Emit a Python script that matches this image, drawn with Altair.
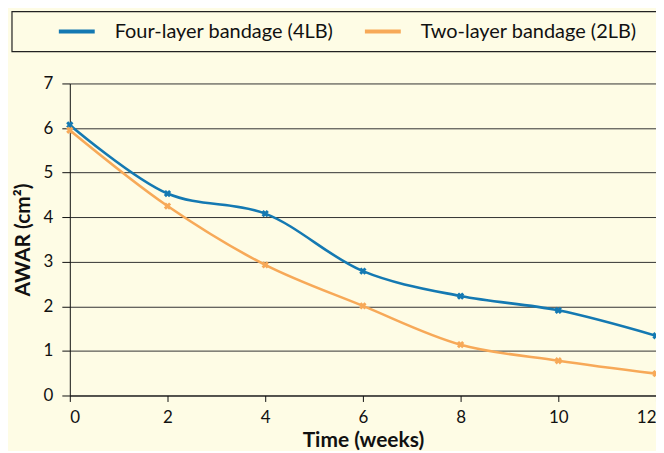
import altair as alt
import pandas as pd

weeks = [0, 2, 4, 6, 8, 10, 12]
four_layer = [6.07, 4.53, 4.08, 2.79, 2.23, 1.91, 1.34]
two_layer = [5.95, 4.25, 2.93, 2.01, 1.14, 0.78, 0.49]
series_names = ["Four-layer bandage (4LB)", "Two-layer bandage (2LB)"]
series_colors = ["#1479B2", "#F7A958"]

rows = []
for w, v in zip(weeks, four_layer):
    rows.append({"week": w, "awar": v, "series": series_names[0]})
for w, v in zip(weeks, two_layer):
    rows.append({"week": w, "awar": v, "series": series_names[1]})
df = pd.DataFrame(rows)

FONT = "Lato"
BG = "#FEFCE5"
INK = "#111111"

color = alt.Color(
    "series:N",
    scale=alt.Scale(domain=series_names, range=series_colors),
    legend=alt.Legend(
        title=None,
        orient="none",
        legendX=-13,
        legendY=-72,
        direction="horizontal",
        columns=2,
        columnPadding=23,
        padding=0,
        symbolType="stroke",
        symbolSize=1296,
        symbolStrokeWidth=4,
        labelFont=FONT,
        labelFontSize=20,
        labelColor=INK,
        labelOffset=18,
        labelLimit=400,
    ),
)

x = alt.X(
    "week:Q",
    scale=alt.Scale(domain=[0, 12], nice=False),
    axis=alt.Axis(
        values=weeks,
        title="Time (weeks)",
        titleFont=FONT,
        titleFontSize=21,
        titleFontWeight="bold",
        titleColor=INK,
        titlePadding=4,
        labelFont=FONT,
        labelFontSize=17,
        labelColor=INK,
        labelPadding=8,
        tickSize=6,
        tickColor=INK,
        domainColor=INK,
        grid=False,
    ),
)

y = alt.Y(
    "awar:Q",
    scale=alt.Scale(domain=[0, 7], nice=False),
    axis=alt.Axis(
        values=[0, 1, 2, 3, 4, 5, 6, 7],
        title="AWAR (cm²)",
        titleFont=FONT,
        titleFontSize=21,
        titleFontWeight="bold",
        titleColor=INK,
        titlePadding=10,
        labelFont=FONT,
        labelFontSize=17,
        labelColor=INK,
        labelPadding=9,
        tickSize=8,
        tickColor=INK,
        domainColor=INK,
        grid=True,
        gridColor="#333333",
        gridWidth=1,
    ),
)

box = alt.Chart(pd.DataFrame({"k": [0]})).mark_rect(
    fill=BG, stroke="#222222", strokeWidth=1.2
).encode(
    x=alt.value(-58), x2=alt.value(610), y=alt.value(-72), y2=alt.value(-32)
)

lines = alt.Chart(df).mark_line(interpolate="catmull-rom", strokeWidth=2.6).encode(
    x=x, y=y, color=color
)

points = alt.Chart(df).mark_point(
    shape="cross", angle=45, size=55, filled=True, opacity=1
).encode(x="week:Q", y="awar:Q", color=alt.Color("series:N", legend=None,
    scale=alt.Scale(domain=series_names, range=series_colors)))

chart = alt.layer(box, lines, points).properties(
    width=588,
    height=313,
    autosize=alt.AutoSizeParams(type="none"),
    padding={"left": 62, "top": 75, "right": 0, "bottom": 55},
    background=BG,
).configure_view(stroke=None)

chart.save("out.html", embed_options={"renderer": "svg", "actions": False})
